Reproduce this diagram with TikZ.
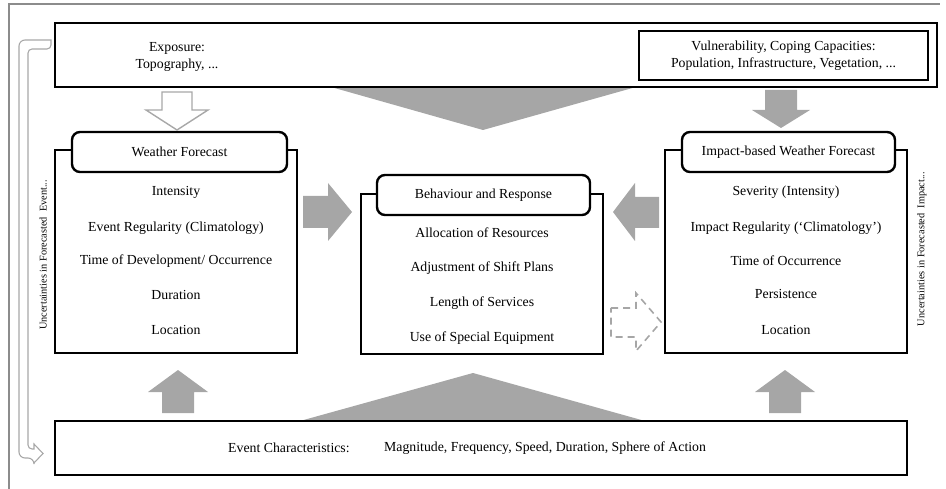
\documentclass[tikz,border=0pt]{standalone}
\usepackage{fontspec}
\setmainfont{Liberation Serif}
\definecolor{arrowgrey}{HTML}{A6A6A6}
\definecolor{linegrey}{HTML}{A8A8A8}
\definecolor{framegrey}{HTML}{8C8C8C}
\begin{document}
\begin{tikzpicture}[x=1pt,y=-1pt,
  txt/.style={font=\fontsize{13.8}{17}\selectfont, inner sep=0pt, align=center},
  smalltxt/.style={font=\fontsize{10.3}{12}\selectfont, inner sep=0pt, rotate=90},
  panel/.style={draw=black, line width=1.4pt, fill=white, inner sep=0pt},
  headbox/.style={draw=black, line width=2.4pt, fill=white, rounded corners=8pt, inner sep=0pt},
  infobox/.style={draw=black, line width=1.7pt, inner sep=0pt},
  greyarrow/.style={fill=arrowgrey, draw=none},
  hollowarrow/.style={draw=linegrey, line width=1.4pt, fill=white, line join=miter},
  dashedarrow/.style={draw=arrowgrey, line width=1.6pt, dash pattern=on 7pt off 5pt},
  bracket/.style={draw=linegrey, line width=1.1pt, fill=white}
]
\useasboundingbox (0,0) rectangle (946,489);

% outer frame (top and left rules)
\draw[framegrey, line width=1.3pt] (9,489) -- (9,4) -- (940,4);

% wide grey wedges from the top and bottom boxes towards the centre
\fill[arrowgrey] (331,87) -- (636,87) -- (483,130) -- cycle;
\fill[arrowgrey] (300,421) -- (645,421) -- (473,373) -- cycle;

% top box with the two influence groups
\node[infobox, minimum width=882pt, minimum height=64pt] (topbox) at (496,55) {};
\node[infobox, minimum width=289pt, minimum height=49pt] (vulnbox) at (783.5,55.5) {};
\node[txt] (exposure) at (177,56.5) {Exposure:\\Topography, ...};
\node[txt] (vulntext) at (vulnbox.center) {Vulnerability, Coping Capacities:\\Population, Infrastructure, Vegetation, ...};

% bottom box
\node[infobox, minimum width=852pt, minimum height=54pt] (bottombox) at (481,448) {};
\node[txt, anchor=west] (evchar) at (228,448) {Event Characteristics:};
\node[txt, anchor=west] (evlist) at (384,448) {Magnitude, Frequency, Speed, Duration, Sphere of Action};

% three panels
\node[panel, minimum width=242pt, minimum height=203pt] (wfpanel) at (176,251.5) {};
\node[panel, minimum width=242pt, minimum height=160pt] (brpanel) at (482,274) {};
\node[panel, minimum width=242pt, minimum height=203pt] (ibpanel) at (786,251.5) {};

\node[headbox, minimum width=215pt, minimum height=40pt] (wfhead) at (179.5,152) {};
\node[headbox, minimum width=213pt, minimum height=40pt] (brhead) at (483.5,195) {};
\node[headbox, minimum width=213pt, minimum height=40pt] (ibhead) at (788.5,152) {};

\node[txt] (wftitle) at (wfhead.center) {Weather Forecast};
\node[txt] (brtitle) at (brhead.center) {Behaviour and Response};
\node[txt] (ibtitle) at (ibhead.center) {Impact-based Weather Forecast};

% weather forecast items
\node[txt] (wf1) at (176,192) {Intensity};
\node[txt] (wf2) at (176,228) {Event Regularity (Climatology)};
\node[txt] (wf3) at (176,261) {Time of Development/ Occurrence};
\node[txt] (wf4) at (176,295) {Duration};
\node[txt] (wf5) at (176,330) {Location};

% behaviour and response items
\node[txt] (br1) at (482,233) {Allocation of Resources};
\node[txt] (br2) at (482,268) {Adjustment of Shift Plans};
\node[txt] (br3) at (482,303) {Length of Services};
\node[txt] (br4) at (482,338) {Use of Special Equipment};

% impact-based forecast items
\node[txt] (ib1) at (786,192) {Severity (Intensity)};
\node[txt] (ib2) at (786,228) {Impact Regularity (‘Climatology’)};
\node[txt] (ib3) at (786,261) {Time of Occurrence};
\node[txt] (ib4) at (786,294) {Persistence};
\node[txt] (ib5) at (786,330) {Location};

% side labels
\node[smalltxt] (uncev) at (43,255) {Uncertainties in Forecasted\ \ Event...};
\node[smalltxt] (uncimp) at (922,249) {Uncertainties in Forecasted\ \ Impact...};

% exposure -> weather forecast (hollow block arrow)
\draw[hollowarrow] (162,92) -- (192,92) -- (192,110) -- (208,110) -- (177,130)
  -- (146,110) -- (162,110) -- cycle;
% vulnerability -> impact-based forecast
\fill[arrowgrey] (765,90) -- (797,90) -- (797,110) -- (810,110) -- (781,128)
  -- (752,110) -- (765,110) -- cycle;
% weather forecast -> behaviour
\fill[arrowgrey] (303,196) -- (328,196) -- (328,183) -- (352,212) -- (328,241)
  -- (328,228) -- (303,228) -- cycle;
% impact-based forecast -> behaviour
\fill[arrowgrey] (659,197) -- (635,197) -- (635,183) -- (613,212) -- (635,241)
  -- (635,228) -- (659,228) -- cycle;
% event characteristics -> both forecasts
\fill[arrowgrey] (162,413) -- (194,413) -- (194,392) -- (208,392) -- (178,370)
  -- (148,392) -- (162,392) -- cycle;
\fill[arrowgrey] (769,413) -- (801,413) -- (801,392) -- (815,392) -- (785,370)
  -- (755,392) -- (769,392) -- cycle;
% behaviour -> impact-based forecast (dashed outline)
\draw[dashedarrow] (611,308) -- (636,308) -- (636,293) -- (661,322) -- (636,351)
  -- (636,337) -- (611,337) -- cycle;

% feedback bracket from the top box down to the bottom box
\draw[bracket] (51,40) [rounded corners=6pt] -- (19,40) -- (19,458) -- (34,458)
  [sharp corners] -- (34,463) -- (43,453.5) -- (34,444) -- (34,449)
  [rounded corners=4pt] -- (28,449) -- (28,49) -- (51,49) [sharp corners] -- cycle;
\end{tikzpicture}
\end{document}
